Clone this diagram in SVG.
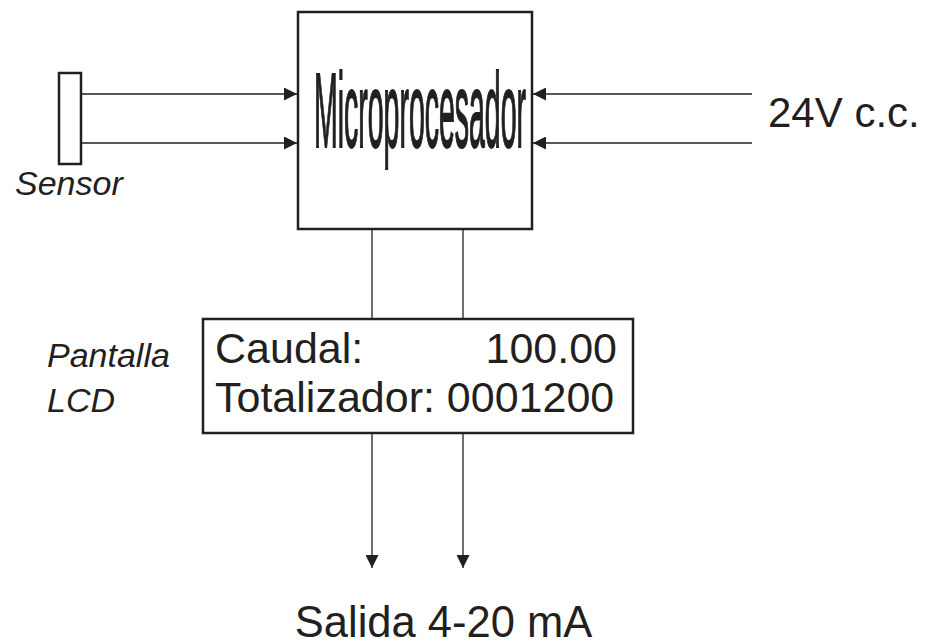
<svg xmlns="http://www.w3.org/2000/svg" width="925" height="643" viewBox="0 0 925 643">
<style>
.box{fill:#fff;stroke:#231f20;stroke-width:2.5}
.wire{fill:none;stroke:#231f20;stroke-width:1.3}
.t{font-family:"Liberation Sans",Arial,sans-serif;fill:#231f20}
.i{font-style:italic}
</style>
<defs>
<marker id="ah" markerUnits="userSpaceOnUse" markerWidth="13" markerHeight="13" viewBox="0 0 13 13" refX="13" refY="6.5" orient="auto">
<path d="M0,0 L13,6.5 L0,13 Z" fill="#231f20"/>
</marker>
</defs>
<rect width="925" height="643" fill="#fff"/>
<g id="connectors">
<line class="wire" x1="81" y1="94" x2="297" y2="94" marker-end="url(#ah)"/>
<line class="wire" x1="81" y1="143" x2="297" y2="143" marker-end="url(#ah)"/>
<line class="wire" x1="752" y1="94" x2="533" y2="94" marker-end="url(#ah)"/>
<line class="wire" x1="752" y1="143" x2="533" y2="143" marker-end="url(#ah)"/>
<line class="wire" x1="372" y1="229" x2="372" y2="319"/>
<line class="wire" x1="463" y1="229" x2="463" y2="319"/>
<line class="wire" x1="372" y1="433" x2="372" y2="568" marker-end="url(#ah)"/>
<line class="wire" x1="463" y1="433" x2="463" y2="568" marker-end="url(#ah)"/>
</g>
<g id="sensor">
<rect class="box" x="59" y="73" width="22" height="91"/>
<text class="t i" x="15" y="195" font-size="34">Sensor</text>
</g>
<g id="micro">
<rect class="box" x="298" y="12" width="234" height="217"/>
<text class="t" x="314" y="147" font-size="105" textLength="212" lengthAdjust="spacingAndGlyphs" stroke="#231f20" stroke-width="2">Microprocesador</text>
</g>
<g id="power">
<text class="t" x="768" y="127" font-size="42">24V c.c.</text>
</g>
<g id="lcd">
<rect class="box" x="203" y="319" width="430" height="114"/>
<text class="t" x="215" y="363" font-size="43">Caudal:</text>
<text class="t" x="617" y="363" font-size="43" text-anchor="end">100.00</text>
<text class="t" x="215" y="412" font-size="43">Totalizador: 0001200</text>
<text class="t i" x="47" y="367" font-size="34">Pantalla</text>
<text class="t i" x="47" y="412" font-size="34">LCD</text>
</g>
<g id="output">
<text class="t" x="443.5" y="637" font-size="43.5" text-anchor="middle">Salida 4-20 mA</text>
</g>
</svg>
